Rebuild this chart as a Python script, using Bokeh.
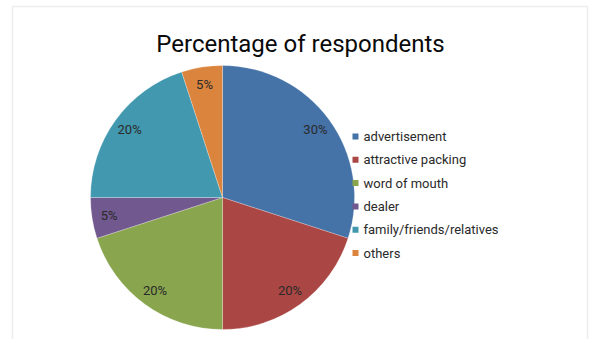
import math
from bokeh.plotting import figure
from bokeh.models import Range1d, ColumnDataSource, BoxAnnotation
from bokeh.core.properties import value
from bokeh.embed import file_html
from bokeh.resources import INLINE

# ---- data ----
title = "Percentage of respondents"
categories = ["advertisement", "attractive packing", "word of mouth", "dealer",
              "family/friends/relatives", "others"]
percent = [30, 20, 20, 5, 20, 5]
colors = ["#4572A7", "#AA4643", "#89A54E", "#71588F", "#4198AF", "#DB843D"]

W, H = 589, 339
cx, cy, R = 222, H - 197, 132
label_frac = 0.87

total = float(sum(percent))
starts, ends, lx, ly, labels = [], [], [], [], []
cum = 0.0
for v in percent:
    a0 = math.pi / 2 - 2 * math.pi * cum / total
    a1 = math.pi / 2 - 2 * math.pi * (cum + v) / total
    starts.append(a0)
    ends.append(a1)
    mid = (a0 + a1) / 2
    lx.append(cx + label_frac * R * math.cos(mid))
    ly.append(cy + label_frac * R * math.sin(mid))
    labels.append(f"{v}%")
    cum += v

src = ColumnDataSource(dict(start=starts, end=ends, color=colors, lx=lx, ly=ly,
                            label=labels, cat=categories))

p = figure(width=W, height=H, output_backend="svg", toolbar_location=None,
           x_range=Range1d(0, W), y_range=Range1d(0, H), min_border=0)
p.axis.visible = False
p.grid.visible = False
p.outline_line_color = None
p.background_fill_color = "white"
p.border_fill_color = "white"

# chart frame
p.add_layout(BoxAnnotation(left=12, right=587, top=H - 6, bottom=-20,
                           fill_alpha=0, line_color="#c4c4c4", line_width=1.5))

p.wedge(x=cx, y=cy, radius=R, start_angle="start", end_angle="end",
        direction="clock", fill_color="color", line_color="white",
        line_width=0.5, line_alpha=0.5, source=src)

p.text(x="lx", y="ly", text="label", source=src, text_align="center",
       text_baseline="middle", text_font=value("Roboto"),
       text_font_size="13px", text_color="#2a2a2a")

# title
p.text(x=[300], y=[H - 43], text=[title], text_align="center",
       text_baseline="alphabetic", text_font=value("Roboto"),
       text_font_size="24px", text_color="#0a0a0a")

# legend
n = len(categories)
leg_y = [H - (136 + 23.3 * i) for i in range(n)]
leg_sx = [355] * n
leg_tx = [363] * n
p.rect(x=leg_sx, y=leg_y, width=6, height=6, fill_color=colors, line_color=None)
p.text(x=leg_tx, y=leg_y, text=categories, text_align="left",
       text_baseline="middle", text_font=value("Roboto"),
       text_font_size="13px", text_color="#2a2a2a")

open("out.html", "w").write(file_html(p, INLINE))
